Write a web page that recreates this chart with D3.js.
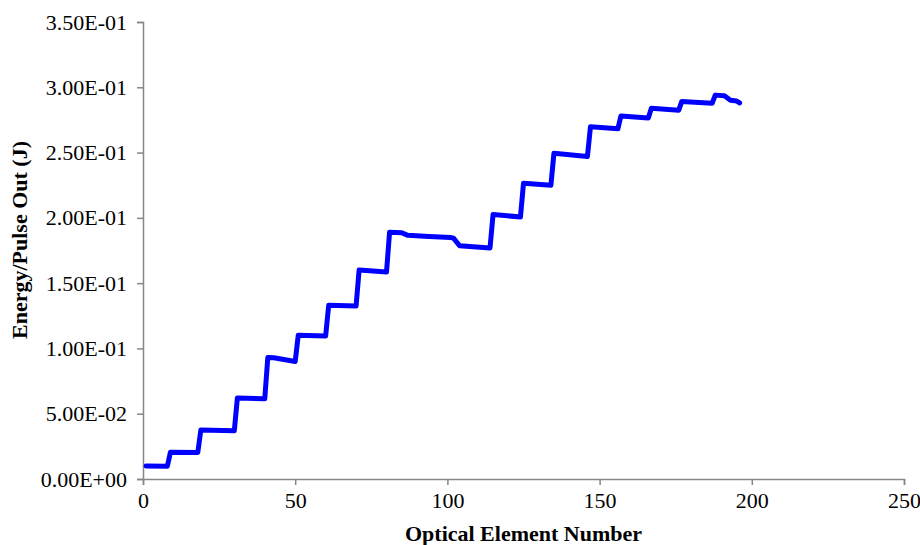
<!DOCTYPE html>
<html><head><meta charset="utf-8">
<script src="https://cdn.jsdelivr.net/npm/d3@7/dist/d3.min.js"></script>
<style>body{margin:0;background:#fff}svg{display:block}</style>
</head><body>
<svg id="c" width="920" height="545"></svg>
<script>
const elements = [1, 8, 9, 18, 19, 30, 31, 40, 41, 43, 50, 51, 60, 61, 70, 71, 80, 81, 85, 87, 94, 101, 102, 104, 114, 115, 124, 125, 134, 135, 146, 147, 156, 157, 166, 167, 176, 177, 187, 188, 191, 193, 195, 196];
const energy = [0.0100, 0.0098, 0.0205, 0.0203, 0.0375, 0.0370, 0.0620, 0.0615, 0.0930, 0.0928, 0.0900, 0.1100, 0.1095, 0.1330, 0.1325, 0.1600, 0.1585, 0.1890, 0.1886, 0.1866, 0.1858, 0.1850, 0.1845, 0.1786, 0.1770, 0.2025, 0.2007, 0.2265, 0.2250, 0.2495, 0.2470, 0.2697, 0.2682, 0.2780, 0.2765, 0.2840, 0.2825, 0.2892, 0.2878, 0.2940, 0.2935, 0.2900, 0.2895, 0.2880];
const xTicks = [0, 50, 100, 150, 200, 250];
const yTicks = [0, 0.05, 0.10, 0.15, 0.20, 0.25, 0.30, 0.35];
const xTitle = "Optical Element Number";
const yTitle = "Energy/Pulse Out (J)";

const svg = d3.select("#c");
const L = 143, R = 904, T = 22, B = 479;
const x = d3.scaleLinear().domain([0, 250]).range([L, R]);
const y = d3.scaleLinear().domain([0, 0.35]).range([B, T]);
const axisColor = "#868686";
const font = "'Liberation Serif','Times New Roman',serif";

const yAxis = svg.append("g").attr("transform", `translate(${L},0)`)
  .call(d3.axisLeft(y).tickValues(yTicks).tickSize(6).tickPadding(10)
    .tickFormat(d => d.toExponential(2).replace(/e([+-])(\d)$/, "E$10$2").toUpperCase()));
const xAxis = svg.append("g").attr("transform", `translate(0,${B})`)
  .call(d3.axisBottom(x).tickValues(xTicks).tickSize(6).tickPadding(7).tickFormat(d3.format("d")));
[xAxis, yAxis].forEach(g => {
  g.select(".domain").attr("stroke", axisColor).attr("stroke-width", 1.5);
  g.selectAll(".tick line").attr("stroke", axisColor).attr("stroke-width", 1.5);
  g.selectAll(".tick text").attr("fill", "#000").style("font-family", font).style("font-size", "22px");
});

const data = elements.map((e, i) => [e, energy[i]]);
svg.append("path").datum(data)
  .attr("fill", "none").attr("stroke", "#0000FF").attr("stroke-width", 5)
  .attr("stroke-linejoin", "round").attr("stroke-linecap", "round")
  .attr("d", d3.line().x(d => x(d[0])).y(d => y(d[1])));

svg.append("text").attr("x", (L + R) / 2).attr("y", 541).attr("text-anchor", "middle")
  .style("font-family", font).style("font-size", "22px").style("font-weight", "bold").text(xTitle);
svg.append("text").attr("transform", `translate(27,240) rotate(-90)`).attr("text-anchor", "middle")
  .style("font-family", font).style("font-size", "22px").style("font-weight", "bold").text(yTitle);
</script>
</body></html>
